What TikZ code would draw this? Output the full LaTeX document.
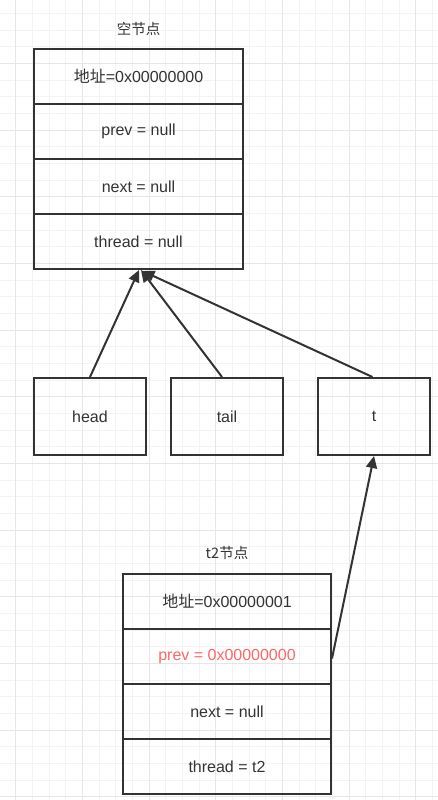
\documentclass[tikz,border=0pt]{standalone}
\usepackage{fontspec}
\setmainfont{Liberation Sans}
\newfontfamily\cjk{Noto Sans CJK SC}
\usepackage{xcolor}
\usetikzlibrary{positioning,arrows.meta}
\definecolor{ink}{HTML}{333333}
\definecolor{warn}{HTML}{FF6666}
\definecolor{gridminor}{HTML}{F3F3F3}
\definecolor{gridmajor}{HTML}{E6E6E6}
\tikzset{
  row/.style    ={draw=ink, line width=2pt, minimum width=209pt, minimum height=55pt, inner sep=0pt, text=ink, font=\fontsize{16}{19}\selectfont},
  rowb/.style   ={row, minimum width=208pt},
  ptr/.style    ={draw=ink, line width=2pt, minimum width=112pt, minimum height=77pt, inner sep=0pt, text=ink, font=\fontsize{16}{19}\selectfont},
  title/.style  ={text=ink, font=\cjk\fontsize{14.5}{17}\selectfont},
  link/.style   ={-{Triangle[length=12pt, width=11pt]}, draw=ink, line width=2pt},
}

\begin{document}
\begin{tikzpicture}[x=1pt, y=-1pt]
        \useasboundingbox (0,0) rectangle (438,800);
        \fill[white] (0,0) rectangle (438,800);
        % background grid
        \foreach \k in {0,...,26} {
          \pgfmathsetmacro\gx{-1+16.667*\k}
          \draw[gridminor, line width=1pt] (\gx,0) -- (\gx,800);
        }
        \foreach \k in {0,...,48} {
          \pgfmathsetmacro\gy{-3.33+16.667*\k}
          \draw[gridminor, line width=1pt] (0,\gy) -- (438,\gy);
        }
        \foreach \k in {0,...,6} {
          \pgfmathsetmacro\gx{15.67+66.667*\k}
          \draw[gridmajor, line width=1pt] (\gx,0) -- (\gx,800);
        }
        \foreach \k in {0,...,12} {
          \pgfmathsetmacro\gy{-3.33+66.667*\k}
          \draw[gridmajor, line width=1pt] (0,\gy) -- (438,\gy);
        }

        % empty node
        \node[title] (ttop) at (138.5,29) {空节点};
        \node[row] (addr1)   at (138.5,76.5)  {{\cjk 地址}=0x00000000};
        \node[row] (prev1)   at (138.5,131.5) {prev = null};
        \node[row] (next1)   at (138.5,186.5) {next = null};
        \node[row] (thread1) at (138.5,241.5) {thread = null};

        % pointers
        \node[ptr] (head) at (90,416.5)  {head};
        \node[ptr] (tail) at (227,416.5) {tail};
        \node[ptr] (t)    at (374,416.5) {t};

        % t2 node
        \node[title] (tbot) at (227,553) {t2节点};
        \node[rowb] (addr2)   at (227,601.5) {{\cjk 地址}=0x00000001};
        \node[rowb, text=warn] (prev2) at (227,656.5) {prev = 0x00000000};
        \node[rowb] (next2)   at (227,711.5) {next = null};
        \node[rowb] (thread2) at (227,766.5) {thread = t2};

        \draw[link] (head.north) -- ([xshift=0.5pt]thread1.south);
        \draw[link] ([xshift=-5pt]tail.north) -- ([xshift=2.5pt]thread1.south);
        \draw[link] ([xshift=-1.5pt]t.north) -- ([xshift=4pt, yshift=-1pt]thread1.south);
        \draw[link] ([yshift=-2pt]prev2.east) -- (t.south);
      \end{tikzpicture}
\end{document}
